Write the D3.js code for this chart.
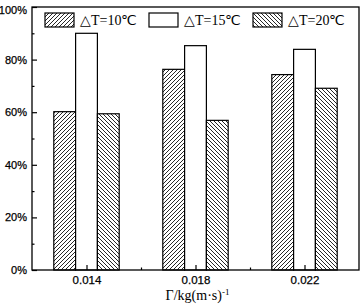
<!DOCTYPE html>
<html>
<head>
<meta charset="utf-8">
<script src="https://cdn.jsdelivr.net/npm/d3@7"></script>
<style>
  body { margin: 0; background: #fff; }
  svg { display: block; font-family: "Liberation Serif", "Times New Roman", serif; }
</style>
</head>
<body>
<svg id="chart" width="361" height="308"></svg>
<script>
const categories = [0.014, 0.018, 0.022]
const seriesNames = ['△T=10℃', '△T=15℃', '△T=20℃']
const dt10 = [60.2, 76.3, 74.3]
const dt15 = [90.0, 85.3, 83.9]
const dt20 = [59.4, 56.9, 69.1]
const yTicks = [0, 20, 40, 60, 80, 100]
const xTicks = [0.014, 0.018, 0.022]

const series = [dt10, dt15, dt20]
const fills = ['url(#hatchFwd)', '#fff', 'url(#hatchBack)']

const width = 361
const height = 308
const margin = { top: 7, right: 2, bottom: 38, left: 32 }
const innerW = width - margin.left - margin.right
const innerH = height - margin.top - margin.bottom

const svg = d3.select('#chart')

// hatch patterns
const defs = svg.append('defs')
function addHatch (id, dir) {
  const p = defs.append('pattern')
    .attr('id', id)
    .attr('patternUnits', 'userSpaceOnUse')
    .attr('width', 4)
    .attr('height', 4)
  p.append('rect').attr('width', 4).attr('height', 4).attr('fill', '#fff')
  const d = dir > 0
    ? 'M-1,1 L1,-1 M0,4 L4,0 M3,5 L5,3'
    : 'M-1,3 L1,5 M0,0 L4,4 M3,-1 L5,1'
  p.append('path').attr('d', d).attr('stroke', '#000').attr('stroke-width', 0.85)
}
addHatch('hatchFwd', 1)
addHatch('hatchBack', -1)

const g = svg.append('g').attr('transform', `translate(${margin.left},${margin.top})`)

const x = d3.scaleLinear().domain([0.012, 0.024]).range([0, innerW])
const y = d3.scaleLinear().domain([0, 100]).range([innerH, 0])
const barW = x(0.0128) - x(0.012)

// bars
series.forEach((vals, si) => {
  g.append('g')
    .selectAll('rect')
    .data(vals)
    .join('rect')
    .attr('x', (d, i) => x(categories[i]) + (si - 1.5) * barW)
    .attr('y', d => y(d))
    .attr('width', barW)
    .attr('height', d => y(0) - y(d))
    .attr('fill', fills[si])
    .attr('stroke', '#000')
    .attr('stroke-width', 1.2)
})

// y axis, ticks pointing inward
const yAxis = g.append('g')
  .call(d3.axisLeft(y).tickValues(yTicks).tickFormat(d => d + '%').tickSizeInner(-5).tickSizeOuter(0).tickPadding(5))
yAxis.select('.domain').remove()
yAxis.selectAll('text').attr('font-size', 11).attr('fill', '#000').attr('stroke', '#000').attr('stroke-width', 0.25)
yAxis.selectAll('line').attr('stroke-width', 1.2)
// top label sits against the page edge, nudge it down a bit
yAxis.selectAll('.tick').filter(d => d === 100).select('text').attr('dy', '0.62em')

const yMinor = g.append('g')
  .call(d3.axisLeft(y).tickValues([10, 30, 50, 70, 90]).tickFormat('').tickSizeInner(-2.5).tickSizeOuter(0))
yMinor.select('.domain').remove()
yMinor.selectAll('line').attr('stroke-width', 1.2)

// x axis
const xAxis = g.append('g')
  .attr('transform', `translate(0,${innerH})`)
  .call(d3.axisBottom(x).tickValues(xTicks).tickFormat(d3.format('.3f')).tickSizeInner(-5).tickSizeOuter(0).tickPadding(6))
xAxis.select('.domain').remove()
xAxis.selectAll('text').attr('font-size', 11.5).attr('fill', '#000').attr('stroke', '#000').attr('stroke-width', 0.25)
xAxis.selectAll('line').attr('stroke-width', 1.2)

const xMinor = g.append('g')
  .attr('transform', `translate(0,${innerH})`)
  .call(d3.axisBottom(x).tickValues([0.016, 0.020]).tickFormat('').tickSizeInner(-2.5).tickSizeOuter(0))
xMinor.select('.domain').remove()
xMinor.selectAll('line').attr('stroke-width', 1.2)

// frame
g.append('rect')
  .attr('width', innerW)
  .attr('height', innerH)
  .attr('fill', 'none')
  .attr('stroke', '#000')
  .attr('stroke-width', 1.3)

// x axis title
const title = g.append('text')
  .attr('x', x(0.018) + 2)
  .attr('y', innerH + 30)
  .attr('text-anchor', 'middle')
  .attr('font-size', 14)
  .text('Γ/kg(m·s)')
title.append('tspan').attr('dy', -5).attr('font-size', 9).text('-1')

// legend
const legend = g.append('g').attr('transform', 'translate(13,6)')
seriesNames.forEach((name, i) => {
  const item = legend.append('g').attr('transform', `translate(${i * 104},0)`)
  item.append('rect')
    .attr('width', 29)
    .attr('height', 14)
    .attr('fill', fills[i])
    .attr('stroke', '#000')
    .attr('stroke-width', 1.2)
  item.append('text')
    .attr('x', 35)
    .attr('y', 12)
    .attr('font-size', 14)
    .text(name)
})
</script>
</body>
</html>
